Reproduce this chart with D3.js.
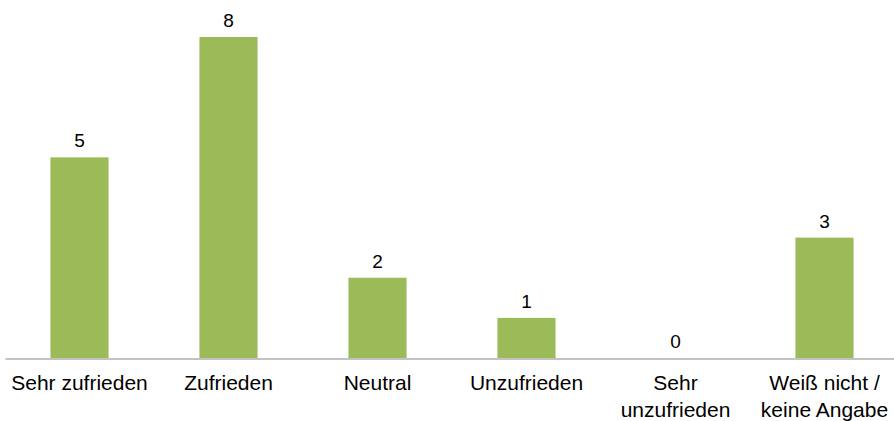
<!DOCTYPE html>
<html>
<head>
<meta charset="utf-8">
<script src="https://cdn.jsdelivr.net/npm/d3@7"></script>
<style>
  body { margin: 0; background: #fff; }
  text { font-family: "Liberation Sans", Arial, sans-serif; }
</style>
</head>
<body>
<svg id="chart" width="894" height="421"></svg>
<script>
const categories = ["Sehr zufrieden", "Zufrieden", "Neutral", "Unzufrieden", "Sehr unzufrieden", "Weiß nicht / keine Angabe"];
const labelLines = [["Sehr zufrieden"], ["Zufrieden"], ["Neutral"], ["Unzufrieden"], ["Sehr", "unzufrieden"], ["Weiß nicht /", "keine Angabe"]];
const values = [5, 8, 2, 1, 0, 3];

const svg = d3.select("#chart"),
      margin = {top: 37, left: 5},
      baseline = 358,
      innerHeight = baseline - margin.top;

const g = svg.append("g").attr("transform", `translate(${margin.left},${margin.top})`);

// bands slightly wider than the window so centres line up with the original
const x = d3.scaleBand()
    .domain(categories)
    .range([0, 894])
    .paddingInner(0.61)
    .paddingOuter(0.305);

const y = d3.scaleLinear()
    .domain([0, 8])
    .range([innerHeight, 0]);

g.selectAll("rect")
  .data(values)
  .join("rect")
    .attr("x", (d, i) => x(categories[i]))
    .attr("y", d => y(d))
    .attr("width", x.bandwidth())
    .attr("height", d => innerHeight - y(d))
    .attr("fill", "#9bbb59");

g.selectAll(".val")
  .data(values)
  .join("text")
    .attr("class", "val")
    .attr("x", (d, i) => x(categories[i]) + x.bandwidth() / 2)
    .attr("y", d => y(d) - 10)
    .attr("text-anchor", "middle")
    .attr("font-size", 19)
    .attr("fill", "#000")
    .text(d => d);

const xAxis = g.append("g")
    .attr("transform", `translate(0,${innerHeight + 0.5})`)
    .call(d3.axisBottom(x).tickSize(0).tickFormat(""));
xAxis.select(".domain").attr("stroke", "#868686");

xAxis.selectAll(".tick").each(function(d, i) {
  const t = d3.select(this).append("text")
      .attr("text-anchor", "middle")
      .attr("font-size", 21)
      .attr("fill", "#000")
      .attr("y", 31);
  labelLines[i].forEach((line, j) => {
    t.append("tspan").attr("x", 0).attr("dy", j === 0 ? 0 : 27).text(line);
  });
});
</script>
</body>
</html>
